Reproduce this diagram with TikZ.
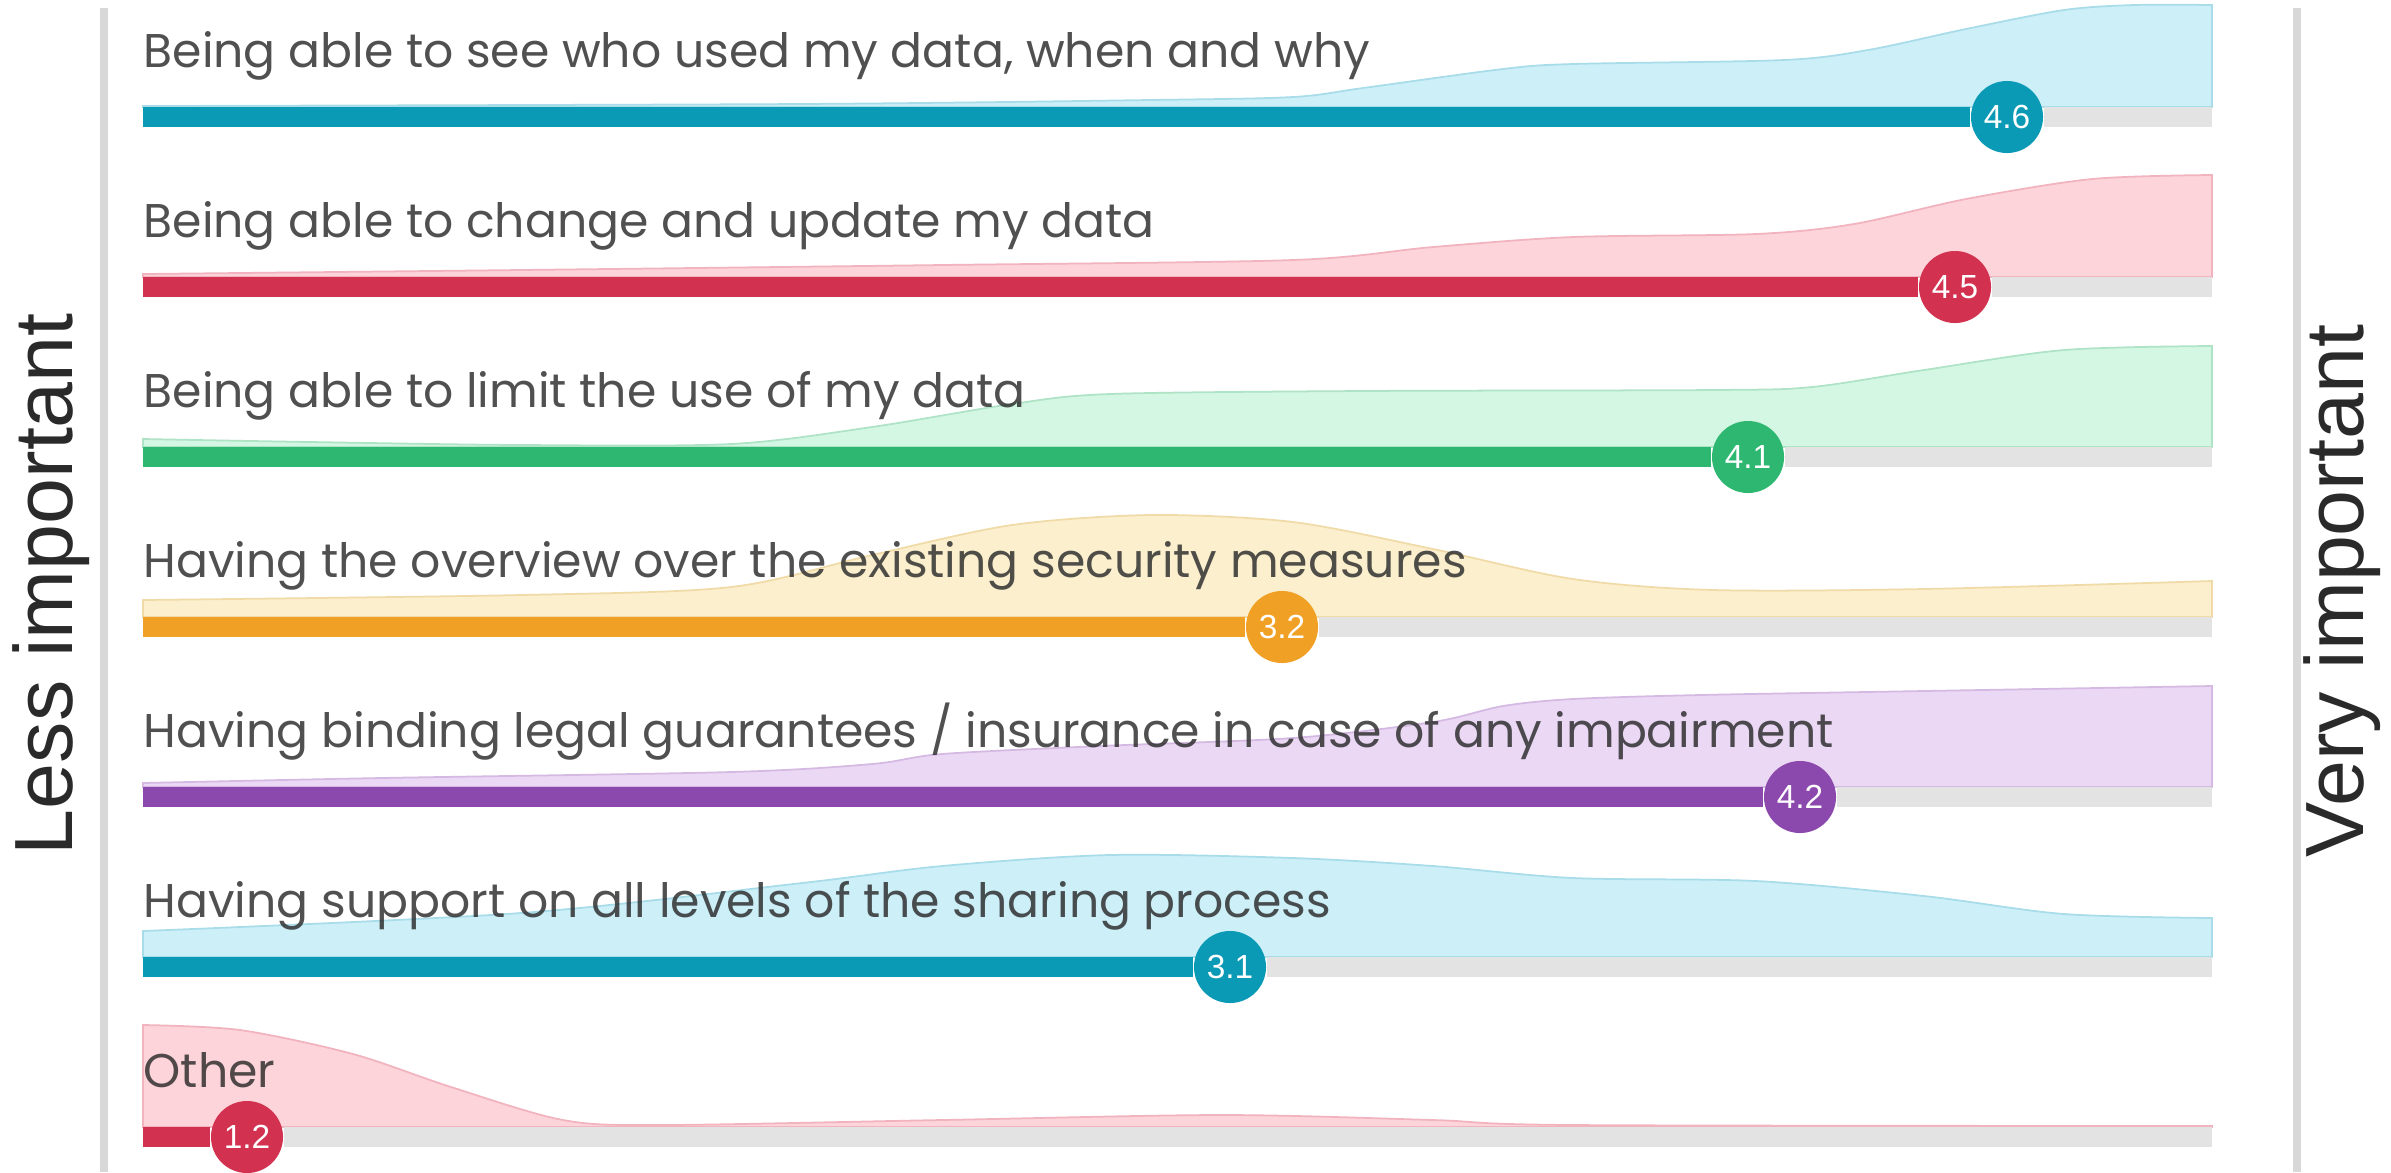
\documentclass[tikz,border=0pt]{standalone}
\usepackage{fontspec}
\setmainfont{Poppins}
\newfontfamily\axisfont{Liberation Sans}
\usetikzlibrary{positioning}

\definecolor{labelgray}{HTML}{2A2A2A}
\definecolor{axisgray}{HTML}{D8D8D8}
\definecolor{trackgray}{HTML}{E3E3E3}
\definecolor{tealbar}{HTML}{0A9AB5}
\definecolor{tealfill}{HTML}{CDEFF8}
\definecolor{tealline}{HTML}{A8DCE9}
\definecolor{redbar}{HTML}{D2314F}
\definecolor{redfill}{HTML}{FDD4DA}
\definecolor{redline}{HTML}{F1B3BE}
\definecolor{greenbar}{HTML}{2EB771}
\definecolor{greenfill}{HTML}{D4F7E4}
\definecolor{greenline}{HTML}{AFE3C6}
\definecolor{orangebar}{HTML}{F0A024}
\definecolor{orangefill}{HTML}{FCEFCD}
\definecolor{orangeline}{HTML}{F0DBA8}
\definecolor{purplebar}{HTML}{8C49AD}
\definecolor{purplefill}{HTML}{EBD8F4}
\definecolor{purpleline}{HTML}{D4BAE2}

\begin{document}
\begin{tikzpicture}[x=0.01cm, y=-0.01cm]
  \tikzstyle{track}=[line width=0.2cm, draw=trackgray]
  \tikzstyle{bar}=[line width=0.2cm]
  \tikzstyle{dot}=[circle, minimum size=0.72cm, inner sep=0pt, text=white, font=\axisfont\fontsize{9.5}{9.5}\selectfont]
  \tikzstyle{lbl}=[inner sep=0pt, text=labelgray, text opacity=0.82, font=\fontsize{13.45}{13.45}\selectfont]
  \tikzstyle{band}=[line width=0.5pt]
  \tikzstyle{axis}=[draw=axisgray, line width=0.08cm]
  \tikzstyle{side}=[rotate=90, inner sep=0pt, text=labelgray, font=\axisfont\fontsize{23.5}{23.5}\selectfont]

  \useasboundingbox (0,0) rectangle (2391,1172);

  % Scale ends
  \draw[axis] (104,8) -- (104,1172);
  \draw[axis] (2297,8) -- (2297,1172);
  \node[side] (less) at (51,584) {Less important};
  \node[side] (very) at (2342,591) {Very important};

  % Row 1
  \filldraw[band, fill=tealfill, draw=tealline] (143,107) -- plot[smooth] coordinates {(143,106) (800,104) (1150,100) (1293,97) (1363,88) (1503,69) (1573,64) (1784,60) (1868,50) (1966,29) (2064,10) (2134,5) (2212,5)} -- (2212,107) -- cycle;
  \coordinate (s1) at (143,117);
  \coordinate (e1) at (2212,117);
  \node[dot, fill=tealbar] (v1) at (2007,117) {4.6};
  \draw[track] (v1) -- (e1);
  \draw[bar, draw=tealbar] (s1) -- (v1);
  \node[lbl, above=0.49cm of s1, anchor=base west] (l1) {Being able to see who used my data, when and why};

  % Row 2
  \filldraw[band, fill=redfill, draw=redline] (143,277) -- plot[smooth] coordinates {(143,274) (521,270) (942,265) (1293,260) (1433,247) (1573,237) (1756,234) (1854,224) (1966,199) (2092,179) (2212,175)} -- (2212,277) -- cycle;
  \coordinate (s2) at (143,287);
  \coordinate (e2) at (2212,287);
  \node[dot, fill=redbar] (v2) at (1955,287) {4.5};
  \draw[track] (v2) -- (e2);
  \draw[bar, draw=redbar] (s2) -- (v2);
  \node[lbl, above=0.49cm of s2, anchor=base west] (l2) {Being able to change and update my data};

  % Row 3
  \filldraw[band, fill=greenfill, draw=greenline] (143,447) -- plot[smooth] coordinates {(143,439) (310,442) (521,445) (731,444) (872,427) (1012,404) (1110,394) (1363,391) (1713,390) (1812,387) (1924,370) (2064,350) (2212,346)} -- (2212,447) -- cycle;
  \coordinate (s3) at (143,457);
  \coordinate (e3) at (2212,457);
  \node[dot, fill=greenbar] (v3) at (1748,457) {4.1};
  \draw[track] (v3) -- (e3);
  \draw[bar, draw=greenbar] (s3) -- (v3);
  \node[lbl, above=0.49cm of s3, anchor=base west] (l3) {Being able to limit the use of my data};

  % Row 4
  \filldraw[band, fill=orangefill, draw=orangeline] (143,617) -- plot[smooth] coordinates {(143,600) (521,595) (731,587) (872,555) (1012,525) (1152,515) (1293,522) (1433,549) (1573,579) (1713,590) (1924,589) (2212,581)} -- (2212,617) -- cycle;
  \coordinate (s4) at (143,627);
  \coordinate (e4) at (2212,627);
  \node[dot, fill=orangebar] (v4) at (1282,627) {3.2};
  \draw[track] (v4) -- (e4);
  \draw[bar, draw=orangebar] (s4) -- (v4);
  \node[lbl, above=0.49cm of s4, anchor=base west] (l4) {Having the overview over the existing security measures};

  % Row 5
  \filldraw[band, fill=purplefill, draw=purpleline] (143,787) -- plot[smooth] coordinates {(143,783) (381,778) (731,772) (872,764) (942,754) (1100,746) (1293,738) (1433,722) (1503,706) (1573,699) (1700,695) (1924,691) (2212,686)} -- (2212,787) -- cycle;
  \coordinate (s5) at (143,797);
  \coordinate (e5) at (2212,797);
  \node[dot, fill=purplebar] (v5) at (1800,797) {4.2};
  \draw[track] (v5) -- (e5);
  \draw[bar, draw=purplebar] (s5) -- (v5);
  \node[lbl, above=0.49cm of s5, anchor=base west] (l5) {Having binding legal guarantees / insurance in case of any impairment};

  % Row 6
  \filldraw[band, fill=tealfill, draw=tealline] (143,957) -- plot[smooth] coordinates {(143,931) (521,913) (802,883) (942,866) (1110,855) (1293,858) (1433,866) (1573,878) (1756,881) (1924,896) (2064,914) (2212,918)} -- (2212,957) -- cycle;
  \coordinate (s6) at (143,967);
  \coordinate (e6) at (2212,967);
  \node[dot, fill=tealbar] (v6) at (1230,967) {3.1};
  \draw[track] (v6) -- (e6);
  \draw[bar, draw=tealbar] (s6) -- (v6);
  \node[lbl, above=0.49cm of s6, anchor=base west] (l6) {Having support on all levels of the sharing process};

  % Row 7
  \filldraw[band, fill=redfill, draw=redline] (143,1127) -- plot[smooth] coordinates {(143,1025) (240,1030) (353,1054) (451,1087) (563,1120) (661,1125) (942,1120) (1222,1115) (1433,1120) (1573,1125) (2212,1126)} -- (2212,1127) -- cycle;
  \coordinate (s7) at (143,1137);
  \coordinate (e7) at (2212,1137);
  \node[dot, fill=redbar] (v7) at (247,1137) {1.2};
  \draw[track] (v7) -- (e7);
  \draw[bar, draw=redbar] (s7) -- (v7);
  \node[lbl, above=0.49cm of s7, anchor=base west] (l7) {Other};
\end{tikzpicture}
\end{document}
